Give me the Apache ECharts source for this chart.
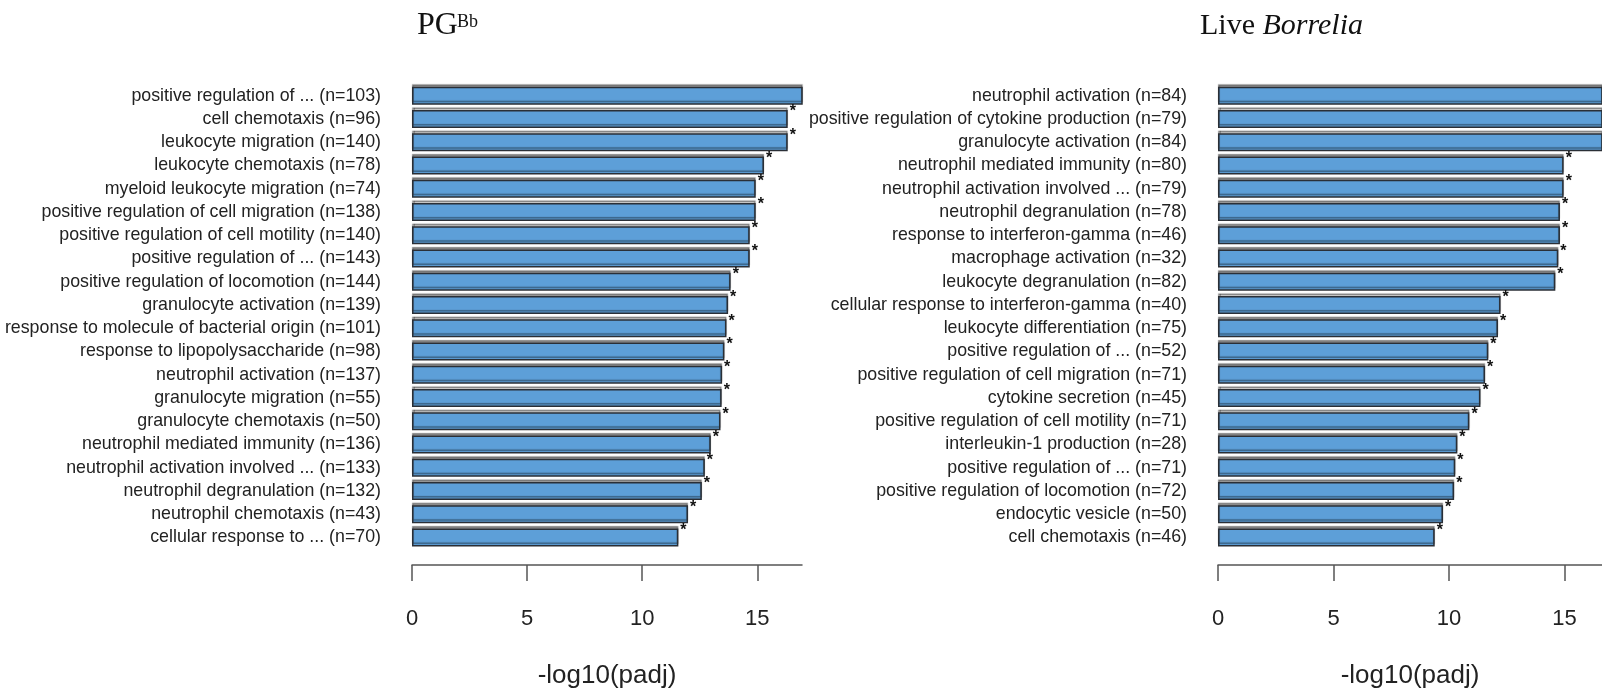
<!DOCTYPE html>
<html>
<head>
<meta charset="utf-8">
<title>GO enrichment: PGBb vs live Borrelia</title>
<script src="https://cdn.jsdelivr.net/npm/echarts@6/dist/echarts.min.js"></script>
<style>
  html, body { margin: 0; padding: 0; background: #ffffff; }
  #chart { width: 1602px; height: 692px; }
</style>
</head>
<body>
<div id="chart"></div>
<script>
// Enriched GO terms, top 20 per stimulus, ordered by -log10(padj)
const pgTerms = [
  'positive regulation of ... (n=103)',
  'cell chemotaxis (n=96)',
  'leukocyte migration (n=140)',
  'leukocyte chemotaxis (n=78)',
  'myeloid leukocyte migration (n=74)',
  'positive regulation of cell migration (n=138)',
  'positive regulation of cell motility (n=140)',
  'positive regulation of ... (n=143)',
  'positive regulation of locomotion (n=144)',
  'granulocyte activation (n=139)',
  'response to molecule of bacterial origin (n=101)',
  'response to lipopolysaccharide (n=98)',
  'neutrophil activation (n=137)',
  'granulocyte migration (n=55)',
  'granulocyte chemotaxis (n=50)',
  'neutrophil mediated immunity (n=136)',
  'neutrophil activation involved ... (n=133)',
  'neutrophil degranulation (n=132)',
  'neutrophil chemotaxis (n=43)',
  'cellular response to ... (n=70)'
];
const pgScores = [17.3, 16.32, 16.32, 15.29, 14.93, 14.93, 14.67, 14.67, 13.84, 13.73,
                  13.66, 13.57, 13.47, 13.45, 13.40, 12.98, 12.72, 12.59, 11.99, 11.57];

const liveTerms = [
  'neutrophil activation (n=84)',
  'positive regulation of cytokine production (n=79)',
  'granulocyte activation (n=84)',
  'neutrophil mediated immunity (n=80)',
  'neutrophil activation involved ... (n=79)',
  'neutrophil degranulation (n=78)',
  'response to interferon-gamma (n=46)',
  'macrophage activation (n=32)',
  'leukocyte degranulation (n=82)',
  'cellular response to interferon-gamma (n=40)',
  'leukocyte differentiation (n=75)',
  'positive regulation of ... (n=52)',
  'positive regulation of cell migration (n=71)',
  'cytokine secretion (n=45)',
  'positive regulation of cell motility (n=71)',
  'interleukin-1 production (n=28)',
  'positive regulation of ... (n=71)',
  'positive regulation of locomotion (n=72)',
  'endocytic vesicle (n=50)',
  'cell chemotaxis (n=46)'
];
const liveScores = [17.6, 17.4, 17.2, 14.96, 14.96, 14.80, 14.80, 14.73, 14.60, 12.23,
                    12.12, 11.70, 11.56, 11.36, 10.88, 10.36, 10.27, 10.22, 9.74, 9.38];

const tickValues = [0, 5, 10, 15];
const axisTitle = '-log10(padj)';

// Panel extents: each panel is cut off at its right edge
const panels = [
  { left: 412, width: 390, max: 16.94, terms: pgTerms, scores: pgScores },
  { left: 1218, width: 384, max: 16.62, terms: liveTerms, scores: liveScores }
];

const SANS = '"Liberation Sans", Arial, Helvetica, sans-serif';
const SERIF = '"Liberation Serif", "Times New Roman", serif';
const GRID_TOP = 84;
const GRID_HEIGHT = 465;

const grids = [], xAxes = [], yAxes = [], series = [];
panels.forEach((p, i) => {
  grids.push({
    left: p.left, width: p.width, top: GRID_TOP, height: GRID_HEIGHT,
    containLabel: false, outerBoundsMode: 'none'
  });
  xAxes.push({
    gridIndex: i, type: 'value', min: 0, max: p.max, interval: 5,
    offset: 16,
    axisLine: { show: true, lineStyle: { color: '#555', width: 1.5 } },
    axisTick: { show: true, length: 16, customValues: tickValues, lineStyle: { color: '#555', width: 1.5 } },
    axisLabel: { customValues: tickValues, fontSize: 22, color: '#222', fontFamily: SANS, margin: 43 },
    splitLine: { show: false },
    name: axisTitle, nameLocation: 'middle', nameGap: 98,
    nameTextStyle: { fontSize: 26, color: '#222', fontFamily: SANS }
  });
  yAxes.push({
    gridIndex: i, type: 'category', data: p.terms, inverse: true,
    axisLine: { show: false }, axisTick: { show: false },
    axisLabel: { interval: 0, fontSize: 17.8, color: '#222', fontFamily: SANS, margin: 31 },
    splitLine: { show: false }
  });
  series.push({
    type: 'bar', xAxisIndex: i, yAxisIndex: i, clip: true,
    barWidth: 18,
    itemStyle: {
      color: '#5d9fd8', borderColor: '#2a2f36', borderWidth: 1.5,
      shadowColor: 'rgba(0,0,0,0.4)', shadowOffsetY: -2.5, shadowBlur: 1
    },
    // significance marker at the tip of every bar that ends inside the panel
    data: p.scores.map(v => ({
      value: v,
      label: {
        show: v < p.max, formatter: '*', position: 'right', distance: 2,
        offset: [0, -7], fontSize: 16, fontWeight: 'bold', color: '#111', fontFamily: SANS
      }
    }))
  });
});

const chart = echarts.init(document.getElementById('chart'), null, { renderer: 'canvas' });
chart.setOption({
  backgroundColor: '#ffffff',
  animation: false,
  grid: grids, xAxis: xAxes, yAxis: yAxes, series: series,
  graphic: [
    { type: 'text', x: 417, y: 26, style: { text: 'PG', font: '32px ' + SERIF, fill: '#111', verticalAlign: 'middle' } },
    { type: 'text', x: 457, y: 22, style: { text: 'Bb', font: '18px ' + SERIF, fill: '#111', verticalAlign: 'middle' } },
    { type: 'text', x: 1200, y: 26, style: {
        text: '{n|Live }{i|Borrelia}', verticalAlign: 'middle', fill: '#111',
        rich: {
          n: { fontSize: 30, fontFamily: SERIF, fill: '#111' },
          i: { fontSize: 30, fontFamily: SERIF, fontStyle: 'italic', fill: '#111' }
        }
    } }
  ]
});
</script>
</body>
</html>
